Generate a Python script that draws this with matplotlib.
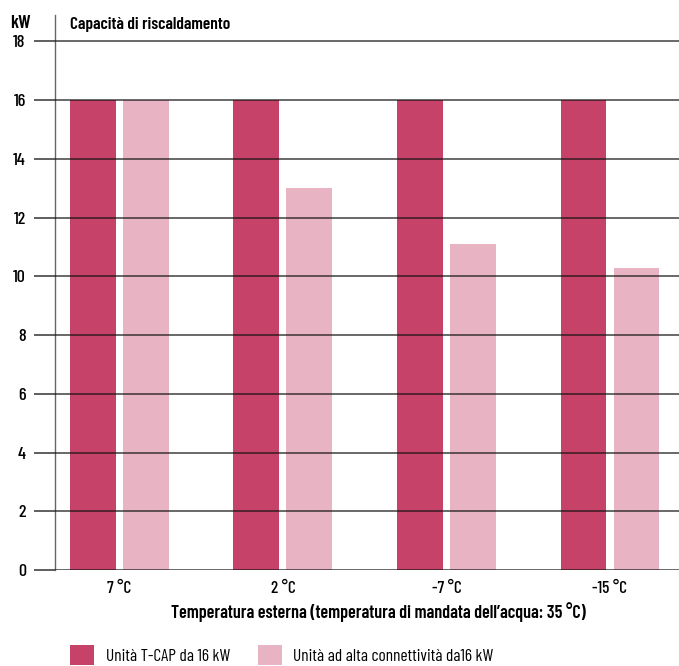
import matplotlib.pyplot as plt
import numpy as np
from matplotlib.ticker import FixedLocator

plt.rcParams['font.family'] = ['Barlow Condensed', 'DejaVu Sans']

categories = ['7 °C', '2 °C', '-7 °C', '-15 °C']
tcap = [16, 16, 16, 16]
alta_conn = [16, 13, 11.1, 10.3]
series_names = ['Unità T-CAP da 16 kW', 'Unità ad alta connettività da16 kW']
yticks = [0, 2, 4, 6, 8, 10, 12, 14, 16, 18]

RED = '#c64268'
PINK = '#e8b4c4'

W, H = 679, 666
fig = plt.figure(figsize=(W / 100, H / 100), dpi=100)
ax = fig.add_axes([55 / W, (H - 570) / H, 1 - 55 / W, (570 - 15) / H])

x = np.arange(len(categories))
bw = 0.281
off = 0.162
b1 = ax.bar(x - off, tcap, bw, color=RED, zorder=2, label=series_names[0])
b2 = ax.bar(x + off, alta_conn, bw, color=PINK, zorder=2, label=series_names[1])

ax.set_xlim(-0.394, 3.422)
ax.set_ylim(0, 18.9)
ax.yaxis.set_major_locator(FixedLocator(yticks))
ax.set_yticklabels([str(v) for v in yticks], fontweight='medium')
ax.grid(axis='y', color='#111111', linewidth=1.1, alpha=0.8, zorder=3)
ax.set_axisbelow(False)

for s in ['top', 'right', 'bottom']:
    ax.spines[s].set_visible(False)
ax.spines['left'].set_color('#666666')
ax.spines['left'].set_linewidth(1.0)

ax.tick_params(axis='y', length=15, width=1.1, color='#333333', pad=6,
               labelsize=13)
ax.set_xticks(x)
ax.set_xticklabels(categories, fontweight='medium')
ax.tick_params(axis='x', length=0, pad=8, labelsize=12.5)

ax.set_xlabel('Temperatura esterna (temperatura di mandata dell’acqua: 35 °C)',
              fontsize=13, fontweight='semibold', labelpad=4)
ax.xaxis.label.set_x(0.518)

fig.text(10 / W, 1 - 24 / H, 'kW', fontsize=13.5, fontweight='semibold', va='center')
fig.text(70 / W, 1 - 24 / H, 'Capacità di riscaldamento', fontsize=12.5,
         fontweight='semibold', va='center')

fig.legend(handles=[b1, b2], loc='center left', bbox_to_anchor=(63 / W, 1 - 655 / H),
           ncol=2, frameon=False, fontsize=12.5, handlelength=1.4, handleheight=1.4,
           columnspacing=1.6, handletextpad=0.65, borderaxespad=0)

fig.savefig('out.png', dpi=100)
